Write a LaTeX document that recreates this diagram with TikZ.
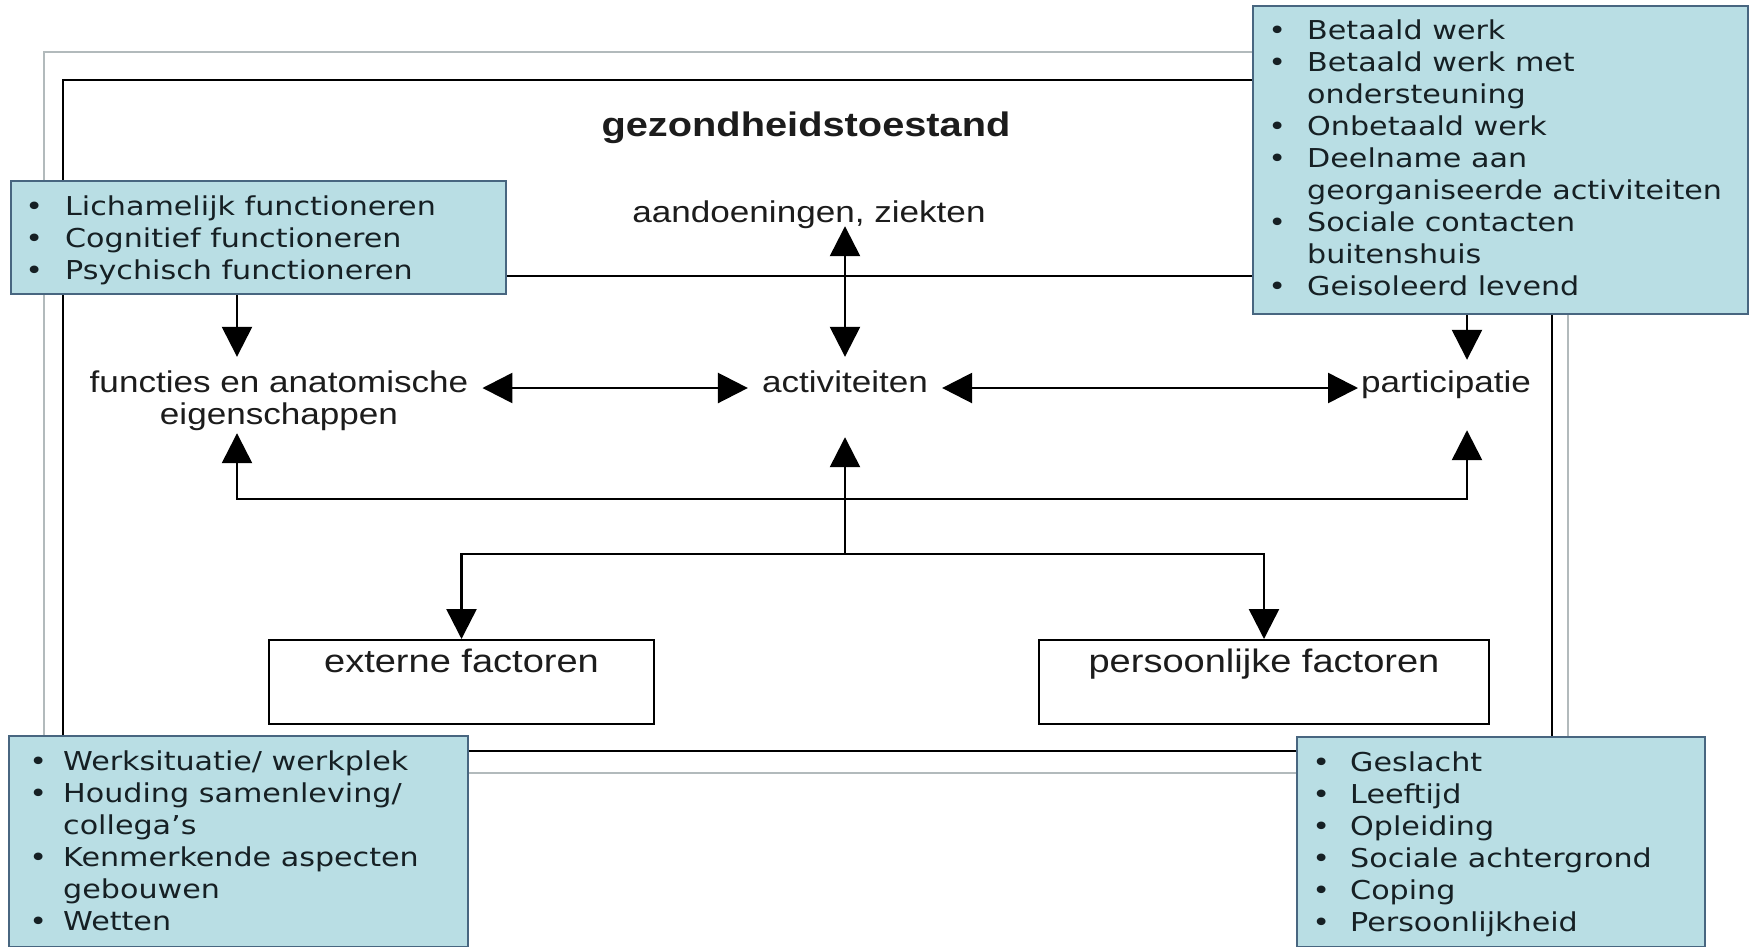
\documentclass[tikz,border=0pt]{standalone}
\usepackage{fontspec}
\setmainfont{Liberation Sans}[FakeStretch=1.17]
\newfontfamily\boxfont{DejaVu Sans}[FakeStretch=1.16]
\usetikzlibrary{arrows.meta}
\definecolor{boxfill}{RGB}{185,222,228}
\definecolor{boxline}{RGB}{72,102,128}
\definecolor{framegray}{RGB}{178,186,188}
\definecolor{ink}{RGB}{28,28,28}
\definecolor{boxink}{RGB}{22,32,36}
\newlength\bgap
\newcommand\itm[1]{\llap{\makebox[0pt][c]{•}\hspace{\bgap}}#1}
\tikzset{
  conn/.style={line width=2.5pt, draw=black},
  arr/.style={conn, -{Triangle[length=30pt,width=30pt]}},
  darr/.style={conn, {Triangle[length=30pt,width=30pt]}-{Triangle[length=30pt,width=30pt]}},
  lbl/.style={font=\fontsize{30}{32}\selectfont, text=ink, inner sep=0pt},
  bluebox/.style={draw=boxline, line width=2pt, fill=boxfill, inner sep=0pt, anchor=north west},
  listtext/.style={anchor=base west, inner sep=0pt, font=\boxfont\fontsize{26}{32}\selectfont, text=boxink},
  factorbox/.style={draw=black, line width=2pt, inner sep=0pt, anchor=north west,
    font=\fontsize{32.5}{34}\selectfont, text=ink, text height=32pt, text depth=52pt},
}
\begin{document}
\begin{tikzpicture}[x=1pt,y=-1pt]
\fill[white] (0,0) rectangle (1754,946);
\useasboundingbox (0,0) rectangle (1754,946);

% frames
\draw[framegray, line width=2.5pt] (44,52) rectangle (1568,773);
\draw[conn] (63,80) rectangle (1552,751);
\draw[conn] (63,276) -- (1552,276);

% labels
\node[lbl, font=\bfseries\fontsize{34}{36}\selectfont, anchor=base] (title) at (806,136) {gezondheidstoestand};
\node[lbl, anchor=base, text depth=4pt] (aand) at (809,222) {aandoeningen, ziekten};
\node[lbl, anchor=base, text height=35pt, text depth=41pt, inner xsep=14pt] (func) at (279,392)
  {\vtop{\baselineskip=32pt\halign{\hfil#\hfil\cr functies en anatomische\cr eigenschappen\cr}}};
\node[lbl, anchor=base, text height=35pt, text depth=45pt, inner xsep=14pt] (act) at (845,392) {activiteiten};
\node[lbl, anchor=base west, text height=32pt, text depth=38pt, inner xsep=3pt] (part) at (1358,392) {participatie};

% factor boxes
\node[factorbox, minimum width=385pt] (ext) at (268,639) {externe factoren};
\node[factorbox, minimum width=450pt] (pers) at (1038,639) {persoonlijke factoren};

% blue boxes
\node[bluebox, minimum width=495pt, minimum height=113pt] (b1) at (10,180) {};
\node[bluebox, minimum width=495pt, minimum height=308pt] (b2) at (1252,5) {};
\node[bluebox, minimum width=459pt, minimum height=211pt] (b3) at (8,735) {};
\node[bluebox, minimum width=408pt, minimum height=210pt] (b4) at (1296,736) {};

\node[listtext] (t1) at (65,215) {\setlength\bgap{31pt}\begin{tabular}[t]{@{}l@{}}
\itm{Lichamelijk functioneren}\\
\itm{Cognitief functioneren}\\
\itm{Psychisch functioneren}\end{tabular}};
\node[listtext] (t2) at (1307,39) {\setlength\bgap{30pt}\begin{tabular}[t]{@{}l@{}}
\itm{Betaald werk}\\
\itm{Betaald werk met}\\
ondersteuning\\
\itm{Onbetaald werk}\\
\itm{Deelname aan}\\
georganiseerde activiteiten\\
\itm{Sociale contacten}\\
buitenshuis\\
\itm{Geisoleerd levend}\end{tabular}};
\node[listtext] (t3) at (63,770) {\setlength\bgap{25pt}\begin{tabular}[t]{@{}l@{}}
\itm{Werksituatie/ werkplek}\\
\itm{Houding samenleving/}\\
collega’s\\
\itm{Kenmerkende aspecten}\\
gebouwen\\
\itm{Wetten}\end{tabular}};
\node[listtext] (t4) at (1350,771) {\setlength\bgap{29pt}\begin{tabular}[t]{@{}l@{}}
\itm{Geslacht}\\
\itm{Leeftijd}\\
\itm{Opleiding}\\
\itm{Sociale achtergrond}\\
\itm{Coping}\\
\itm{Persoonlijkheid}\end{tabular}};

% helper coordinates
\coordinate (colA) at (237,0);
\coordinate (colP) at (1467,0);
\coordinate (row) at (0,388);
\coordinate (fb) at (845,499);
\coordinate (dist) at (845,554);

% connectors
\draw[arr] (b1.south -| colA) -- (func.north -| colA);
\draw[darr] (aand.south -| act.north) -- (act.north);
\draw[darr] (func.east |- row) -- (act.west |- row);
\draw[darr] (act.east |- row) -- (part.west |- row);
\draw[arr] (b2.south -| colP) -- (part.north -| colP);
\draw[darr] (func.south -| colA) |- (fb) -| (part.south -| colP);
\draw[arr] (dist) -- (act.south);
\draw[darr] (ext.north) |- (dist) -| (pers.north);
\end{tikzpicture}
\end{document}
